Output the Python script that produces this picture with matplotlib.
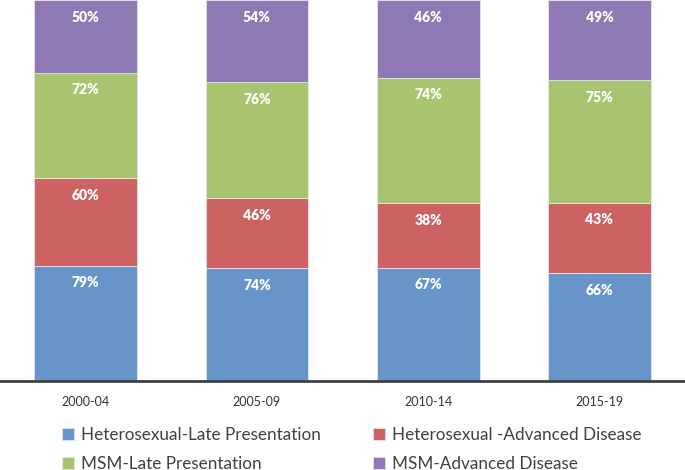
import matplotlib.pyplot as plt
import numpy as np

plt.rcParams['font.family'] = ['Lato', 'DejaVu Sans']

periods = ['2000-04', '2005-09', '2010-14', '2015-19']
series = ['Heterosexual-Late Presentation', 'Heterosexual -Advanced Disease',
          'MSM-Late Presentation', 'MSM-Advanced Disease']
het_late = [79, 74, 67, 66]
het_adv = [60, 46, 38, 43]
msm_late = [72, 76, 74, 75]
msm_adv = [50, 54, 46, 49]
colors = ['#6794C9', '#CD6262', '#A9C46F', '#8E79B5']

vals = np.array([het_late, het_adv, msm_late, msm_adv], dtype=float)
# 100% stacked: each bar is scaled to its own total
frac = vals / vals.sum(axis=0)

fig = plt.figure(figsize=(6.85, 4.70), dpi=100)
ax = fig.add_axes([0, 1 - 381 / 470, 1, 381 / 470])

x = np.arange(len(periods))
bottom = np.zeros(len(periods))
handles = []
for i in range(len(series)):
    h = ax.bar(x, frac[i], 0.6, bottom=bottom, color=colors[i],
               edgecolor='#E6E6E6', linewidth=0.6, label=series[i])
    handles.append(h)
    top = bottom + frac[i]
    for j in range(len(periods)):
        ax.annotate(f'{int(vals[i, j])}%', (x[j], top[j]), xytext=(0, -17),
                    textcoords='offset pixels', ha='center', va='center',
                    color='white', fontsize=10, fontweight='heavy')
    bottom = top

ax.set_xlim(-0.5, 3.5)
ax.set_ylim(0, 1)
ax.set_yticks([])
ax.set_xticks(x)
ax.set_xticklabels(periods, fontsize=9, color='#333333')
ax.tick_params(axis='x', length=0, pad=11)
for s in ['top', 'left', 'right']:
    ax.spines[s].set_visible(False)
ax.spines['bottom'].set_color('#404040')
ax.spines['bottom'].set_linewidth(2)

# legend fills column by column, so reorder to get row-wise layout
order = [0, 2, 1, 3]
leg = fig.legend([handles[k] for k in order], [series[k] for k in order],
                 loc='lower left', bbox_to_anchor=(0.068, -0.036), ncol=2,
                 frameon=False, fontsize=12.3, handlelength=0.7,
                 handleheight=0.7, handletextpad=0.4, columnspacing=3.05,
                 labelspacing=0.72)
for t in leg.get_texts():
    t.set_color('#404040')

fig.savefig('out.png', dpi=100)
